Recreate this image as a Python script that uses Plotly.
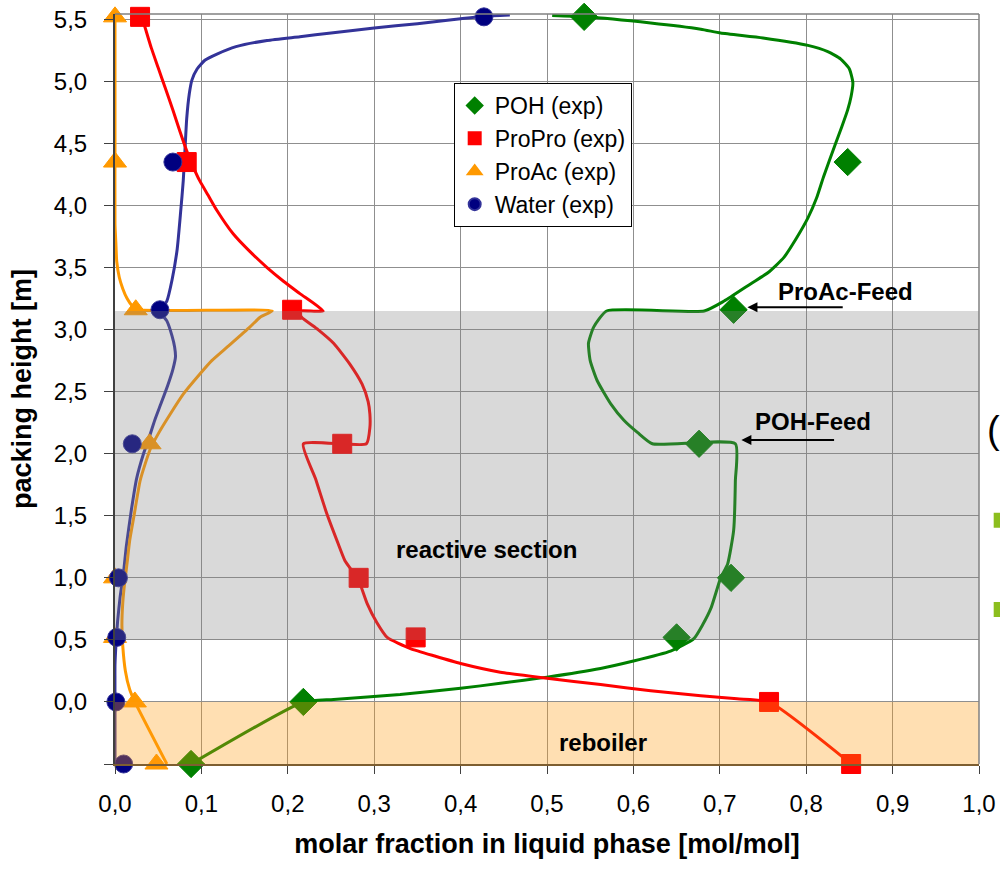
import plotly.graph_objects as go

# ---------------- experimental composition profiles (liquid phase) ----------------
exp_height = [5.52, 4.35, 3.16, 2.08, 1.00, 0.52, 0.00, -0.50]
poh_exp = [0.543, 0.848, 0.716, 0.676, 0.713, 0.650, 0.218, 0.088]
propro_exp = [0.029, 0.083, 0.205, 0.263, 0.282, 0.348, 0.757, 0.852]
proac_exp = [0.000, 0.000, 0.024, 0.040, 0.000, 0.000, 0.023, 0.048]
water_exp = [0.427, 0.067, 0.052, 0.020, 0.004, 0.002, 0.001, 0.010]

# ---------------- simulated profiles (top -> bottom) ----------------
water_sim_x = [0.457, 0.427, 0.400, 0.350, 0.300, 0.250, 0.214, 0.176, 0.140, 0.118,
               0.104, 0.095, 0.089, 0.086, 0.083, 0.081, 0.079, 0.076, 0.072, 0.066,
               0.060, 0.052, 0.060, 0.066, 0.069, 0.070, 0.067, 0.061, 0.053, 0.046,
               0.039, 0.033, 0.025, 0.019, 0.013, 0.010, 0.006, 0.003, 0.001, 0.000,
               0.000, 0.000]
water_sim_y = [5.535, 5.525, 5.505, 5.465, 5.430, 5.390, 5.360, 5.330, 5.280, 5.220,
               5.170, 5.100, 5.010, 4.900, 4.700, 4.450, 4.200, 3.950, 3.650, 3.400,
               3.230, 3.150, 3.070, 2.950, 2.860, 2.780, 2.680, 2.550, 2.400, 2.270,
               2.120, 2.000, 1.800, 1.550, 1.250, 1.050, 0.850, 0.650, 0.450, 0.300,
               0.000, -0.500]

proac_sim_x = [0.000, 0.000, 0.000, 0.001, 0.002, 0.005, 0.009, 0.014, 0.020, 0.026,
               0.182, 0.168, 0.156, 0.130, 0.112, 0.098, 0.079, 0.064, 0.050, 0.041,
               0.035, 0.029, 0.022, 0.017, 0.014, 0.011, 0.009, 0.008, 0.009, 0.012,
               0.017, 0.023, 0.060]
proac_sim_y = [5.550, 4.500, 3.850, 3.700, 3.550, 3.420, 3.330, 3.250, 3.190, 3.160,
               3.150, 3.100, 3.020, 2.860, 2.750, 2.640, 2.480, 2.320, 2.160, 2.040,
               1.920, 1.780, 1.500, 1.300, 1.120, 0.950, 0.800, 0.620, 0.450, 0.250,
               0.100, 0.000, -0.500]

propro_sim_x = [0.031, 0.035, 0.042, 0.050, 0.058, 0.067, 0.075, 0.083, 0.090, 0.098,
                0.108, 0.118, 0.137, 0.156, 0.176, 0.195, 0.214, 0.241, 0.212, 0.216,
                0.235, 0.253, 0.272, 0.286, 0.293, 0.295, 0.295, 0.291, 0.218, 0.232,
                0.245, 0.258, 0.266, 0.274, 0.282, 0.292, 0.303, 0.315, 0.342, 0.370,
                0.400, 0.446, 0.500, 0.562, 0.620, 0.678, 0.720, 0.757, 0.852]
propro_sim_y = [5.520, 5.430, 5.270, 5.110, 4.950, 4.770, 4.600, 4.440, 4.320, 4.200,
                4.080, 3.960, 3.770, 3.630, 3.500, 3.390, 3.290, 3.150, 3.150, 3.100,
                3.000, 2.890, 2.720, 2.560, 2.420, 2.320, 2.210, 2.080, 2.080, 1.800,
                1.520, 1.280, 1.140, 1.060, 0.980, 0.790, 0.640, 0.520, 0.430, 0.370,
                0.310, 0.240, 0.190, 0.140, 0.090, 0.050, 0.025, 0.000, -0.500]

poh_sim_x = [0.506, 0.543, 0.620, 0.678, 0.701, 0.750, 0.802, 0.825, 0.840, 0.850,
             0.854, 0.852, 0.848, 0.841, 0.834, 0.820, 0.812, 0.802, 0.789, 0.774,
             0.756, 0.736, 0.705, 0.682, 0.569, 0.554, 0.548, 0.550, 0.558, 0.574,
             0.589, 0.605, 0.622, 0.718, 0.718, 0.716, 0.709, 0.701, 0.690, 0.680,
             0.670, 0.643, 0.600, 0.562, 0.500, 0.446, 0.400, 0.330, 0.253, 0.218,
             0.088]
poh_sim_y = [5.530, 5.520, 5.470, 5.420, 5.390, 5.350, 5.290, 5.240, 5.180, 5.100,
             4.990, 4.880, 4.770, 4.630, 4.500, 4.230, 4.060, 3.900, 3.740, 3.580,
             3.460, 3.370, 3.230, 3.150, 3.150, 3.020, 2.890, 2.750, 2.590, 2.400,
             2.270, 2.170, 2.080, 2.080, 1.780, 1.380, 1.110, 1.000, 0.760, 0.620,
             0.510, 0.410, 0.330, 0.270, 0.200, 0.150, 0.110, 0.060, 0.020, 0.000,
             -0.500]

# ---------------- axes ----------------
x_ticks = [0.0, 0.1, 0.2, 0.3, 0.4, 0.5, 0.6, 0.7, 0.8, 0.9, 1.0]
x_tick_labels = ["0,0", "0,1", "0,2", "0,3", "0,4", "0,5", "0,6", "0,7", "0,8", "0,9", "1,0"]
y_ticks = [-0.5, 0.0, 0.5, 1.0, 1.5, 2.0, 2.5, 3.0, 3.5, 4.0, 4.5, 5.0, 5.5]
y_tick_labels = ["", "0,0", "0,5", "1,0", "1,5", "2,0", "2,5", "3,0", "3,5", "4,0", "4,5", "5,0", "5,5"]

# section limits along the packing
reactive_bottom, reactive_top = 0.5, 3.15
reboiler_bottom, reboiler_top = -0.5, 0.0

FONT = "Liberation Sans, Arial, sans-serif"
GREEN, RED, ORANGE, NAVY, BLUE_LINE = "#008000", "#FF0000", "#FF9900", "#000080", "#333399"

fig = go.Figure()

# simulated profiles
for xs, ys, col in [(water_sim_x, water_sim_y, BLUE_LINE),
                    (proac_sim_x, proac_sim_y, ORANGE),
                    (poh_sim_x, poh_sim_y, GREEN),
                    (propro_sim_x, propro_sim_y, RED)]:
    fig.add_trace(go.Scatter(x=xs, y=ys, mode="lines",
                             line=dict(color=col, width=3, shape="spline", smoothing=0.5),
                             showlegend=False, hoverinfo="skip"))

# experimental points
for name, xs, sym, col, size, grp in [
        ("POH (exp)", poh_exp, "diamond", GREEN, 21, "a"),
        ("ProPro (exp)", propro_exp, "square", RED, 19, "b"),
        ("ProAc (exp)", proac_exp, "triangle-up", ORANGE, 20, "c"),
        ("Water (exp)", water_exp, "circle", NAVY, 18, "d")]:
    fig.add_trace(go.Scatter(
        x=xs, y=exp_height, mode="markers", name=name, legendgroup=grp,
        marker=dict(symbol=sym, color=col, size=size,
                    line=dict(color="#333399" if sym == "circle" else col, width=1)),
        cliponaxis=False))

# section bands (semi-transparent, laid over the curves)
fig.add_shape(type="rect", xref="x", yref="y", x0=0, x1=1, y0=reactive_bottom, y1=reactive_top,
              fillcolor="rgb(128,128,128)", opacity=0.30, line_width=0, layer="above")
fig.add_shape(type="rect", xref="x", yref="y", x0=0, x1=1, y0=reboiler_bottom, y1=reboiler_top,
              fillcolor="rgb(255,155,17)", opacity=0.32, line_width=0, layer="above")

# frame: top and right borders
fig.add_shape(type="line", xref="paper", yref="paper", x0=0, x1=1, y0=1, y1=1,
              line=dict(color="#808080", width=1.5))
fig.add_shape(type="line", xref="paper", yref="paper", x0=1, x1=1, y0=0, y1=1,
              line=dict(color="#808080", width=1.5))

BOLD24 = dict(family=FONT, size=24, color="black", weight="bold")

# section labels
fig.add_annotation(x=0.43, y=1.23, text="reactive section", showarrow=False, font=BOLD24)
fig.add_annotation(x=0.565, y=-0.33, text="reboiler", showarrow=False, font=BOLD24)

# feed locations
fig.add_annotation(x=0.846, y=3.31, text="ProAc-Feed", showarrow=False, font=BOLD24)
fig.add_annotation(x=0.732, y=3.18, ax=0.844, ay=3.18, axref="x", ayref="y", text="",
                   showarrow=True, arrowhead=2, arrowsize=1, arrowwidth=2, arrowcolor="black")
fig.add_annotation(x=0.808, y=2.26, text="POH-Feed", showarrow=False, font=BOLD24)
fig.add_annotation(x=0.725, y=2.11, ax=0.834, ay=2.11, axref="x", ayref="y", text="",
                   showarrow=True, arrowhead=2, arrowsize=1, arrowwidth=2, arrowcolor="black")

# slide elements at the right edge
fig.add_annotation(xref="paper", yref="paper", x=1.007, y=0.445, xanchor="left",
                   text="(", showarrow=False, font=dict(family=FONT, size=38, color="black"))
for y0, y1 in [(0.315, 0.335), (0.196, 0.216)]:
    fig.add_shape(type="rect", xref="paper", yref="paper", x0=1.017, x1=1.03, y0=y0, y1=y1,
                  fillcolor="#8CBE1E", line_width=0)

fig.update_layout(
    width=1000, height=871,
    margin=dict(l=115, r=21, t=14, b=107),
    paper_bgcolor="white", plot_bgcolor="white",
    font=dict(family=FONT, size=24, color="black"),
    showlegend=True,
    legend=dict(x=0.392, y=0.908, xanchor="left", yanchor="top",
                bgcolor="white", bordercolor="black", borderwidth=1,
                font=dict(family=FONT, size=23, color="black"),
                traceorder="grouped", tracegroupgap=0, itemsizing="constant"),
    xaxis=dict(range=[0, 1], tickvals=x_ticks, ticktext=x_tick_labels, automargin=False,
               showgrid=True, gridcolor="#8f8f8f", gridwidth=1,
               showline=True, linecolor="#7d5e31", linewidth=2,
               ticks="outside", ticklen=8, tickcolor="#404040", tickwidth=1,
               zeroline=False, ticklabelstandoff=9,
               tickfont=dict(family=FONT, size=24, color="black"),
               title=dict(text="molar fraction in liquid phase [mol/mol]", standoff=18,
                          font=dict(family=FONT, size=27, color="black", weight="bold"))),
    yaxis=dict(range=[-0.5, 5.543], tickvals=y_ticks, ticktext=y_tick_labels, automargin=False,
               showgrid=True, gridcolor="#8f8f8f", gridwidth=1,
               showline=True, linecolor="#404040", linewidth=2,
               ticks="outside", ticklen=9, tickcolor="#404040", tickwidth=1,
               zeroline=False, ticklabelstandoff=12,
               tickfont=dict(family=FONT, size=24, color="black"),
               title=dict(text="packing height [m]", standoff=14,
                          font=dict(family=FONT, size=27, color="black", weight="bold"))),
)

fig.write_html("out.html")
